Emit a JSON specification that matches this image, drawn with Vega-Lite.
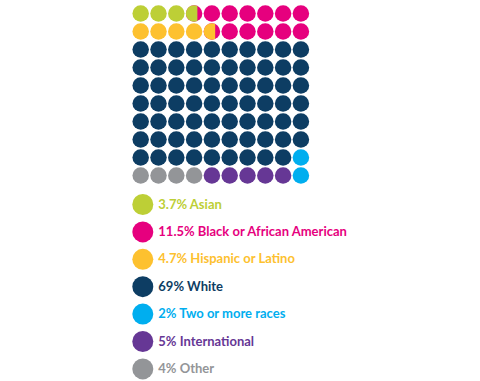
{
  "$schema": "https://vega.github.io/schema/vega-lite/v6.json",
  "autosize": "none",
  "width": 178,
  "height": 180,
  "padding": {"left": 131.8, "top": 4.5, "right": 170.2, "bottom": 196.5},
  "background": "white",
  "config": {"view": {"stroke": null}},
  "data": {"values": [
    {"r":1,"c":1,"g":"3.7% Asian","f":1},{"r":1,"c":2,"g":"3.7% Asian","f":1},{"r":1,"c":3,"g":"3.7% Asian","f":1},
    {"r":1,"c":4,"g":"11.5% Black or African American","f":1},{"r":1,"c":5,"g":"11.5% Black or African American","f":1},{"r":1,"c":6,"g":"11.5% Black or African American","f":1},{"r":1,"c":7,"g":"11.5% Black or African American","f":1},{"r":1,"c":8,"g":"11.5% Black or African American","f":1},{"r":1,"c":9,"g":"11.5% Black or African American","f":1},{"r":1,"c":10,"g":"11.5% Black or African American","f":1},
    {"r":2,"c":1,"g":"4.7% Hispanic or Latino","f":1},{"r":2,"c":2,"g":"4.7% Hispanic or Latino","f":1},{"r":2,"c":3,"g":"4.7% Hispanic or Latino","f":1},{"r":2,"c":4,"g":"4.7% Hispanic or Latino","f":1},
    {"r":2,"c":5,"g":"11.5% Black or African American","f":1},{"r":2,"c":6,"g":"11.5% Black or African American","f":1},{"r":2,"c":7,"g":"11.5% Black or African American","f":1},{"r":2,"c":8,"g":"11.5% Black or African American","f":1},{"r":2,"c":9,"g":"11.5% Black or African American","f":1},{"r":2,"c":10,"g":"11.5% Black or African American","f":1},
    {"r":3,"c":1,"g":"69% White","f":1},{"r":3,"c":2,"g":"69% White","f":1},{"r":3,"c":3,"g":"69% White","f":1},{"r":3,"c":4,"g":"69% White","f":1},{"r":3,"c":5,"g":"69% White","f":1},{"r":3,"c":6,"g":"69% White","f":1},{"r":3,"c":7,"g":"69% White","f":1},{"r":3,"c":8,"g":"69% White","f":1},{"r":3,"c":9,"g":"69% White","f":1},{"r":3,"c":10,"g":"69% White","f":1},
    {"r":4,"c":1,"g":"69% White","f":1},{"r":4,"c":2,"g":"69% White","f":1},{"r":4,"c":3,"g":"69% White","f":1},{"r":4,"c":4,"g":"69% White","f":1},{"r":4,"c":5,"g":"69% White","f":1},{"r":4,"c":6,"g":"69% White","f":1},{"r":4,"c":7,"g":"69% White","f":1},{"r":4,"c":8,"g":"69% White","f":1},{"r":4,"c":9,"g":"69% White","f":1},{"r":4,"c":10,"g":"69% White","f":1},
    {"r":5,"c":1,"g":"69% White","f":1},{"r":5,"c":2,"g":"69% White","f":1},{"r":5,"c":3,"g":"69% White","f":1},{"r":5,"c":4,"g":"69% White","f":1},{"r":5,"c":5,"g":"69% White","f":1},{"r":5,"c":6,"g":"69% White","f":1},{"r":5,"c":7,"g":"69% White","f":1},{"r":5,"c":8,"g":"69% White","f":1},{"r":5,"c":9,"g":"69% White","f":1},{"r":5,"c":10,"g":"69% White","f":1},
    {"r":6,"c":1,"g":"69% White","f":1},{"r":6,"c":2,"g":"69% White","f":1},{"r":6,"c":3,"g":"69% White","f":1},{"r":6,"c":4,"g":"69% White","f":1},{"r":6,"c":5,"g":"69% White","f":1},{"r":6,"c":6,"g":"69% White","f":1},{"r":6,"c":7,"g":"69% White","f":1},{"r":6,"c":8,"g":"69% White","f":1},{"r":6,"c":9,"g":"69% White","f":1},{"r":6,"c":10,"g":"69% White","f":1},
    {"r":7,"c":1,"g":"69% White","f":1},{"r":7,"c":2,"g":"69% White","f":1},{"r":7,"c":3,"g":"69% White","f":1},{"r":7,"c":4,"g":"69% White","f":1},{"r":7,"c":5,"g":"69% White","f":1},{"r":7,"c":6,"g":"69% White","f":1},{"r":7,"c":7,"g":"69% White","f":1},{"r":7,"c":8,"g":"69% White","f":1},{"r":7,"c":9,"g":"69% White","f":1},{"r":7,"c":10,"g":"69% White","f":1},
    {"r":8,"c":1,"g":"69% White","f":1},{"r":8,"c":2,"g":"69% White","f":1},{"r":8,"c":3,"g":"69% White","f":1},{"r":8,"c":4,"g":"69% White","f":1},{"r":8,"c":5,"g":"69% White","f":1},{"r":8,"c":6,"g":"69% White","f":1},{"r":8,"c":7,"g":"69% White","f":1},{"r":8,"c":8,"g":"69% White","f":1},{"r":8,"c":9,"g":"69% White","f":1},{"r":8,"c":10,"g":"69% White","f":1},
    {"r":9,"c":1,"g":"69% White","f":1},{"r":9,"c":2,"g":"69% White","f":1},{"r":9,"c":3,"g":"69% White","f":1},{"r":9,"c":4,"g":"69% White","f":1},{"r":9,"c":5,"g":"69% White","f":1},{"r":9,"c":6,"g":"69% White","f":1},{"r":9,"c":7,"g":"69% White","f":1},{"r":9,"c":8,"g":"69% White","f":1},{"r":9,"c":9,"g":"69% White","f":1},
    {"r":9,"c":10,"g":"2% Two or more races","f":1},
    {"r":10,"c":1,"g":"4% Other","f":1},{"r":10,"c":2,"g":"4% Other","f":1},{"r":10,"c":3,"g":"4% Other","f":1},{"r":10,"c":4,"g":"4% Other","f":1},
    {"r":10,"c":5,"g":"5% International","f":1},{"r":10,"c":6,"g":"5% International","f":1},{"r":10,"c":7,"g":"5% International","f":1},{"r":10,"c":8,"g":"5% International","f":1},{"r":10,"c":9,"g":"5% International","f":1},
    {"r":10,"c":10,"g":"2% Two or more races","f":1},
    {"r":1,"c":4,"g":"3.7% Asian","f":0.7},
    {"r":2,"c":5,"g":"4.7% Hispanic or Latino","f":0.7}
  ]},
  "mark": {"type": "point", "filled": true, "opacity": 1, "size": 272, "strokeWidth": 0},
  "encoding": {
    "x": {"field": "c", "type": "quantitative", "scale": {"domain": [0.5, 10.5]}, "axis": null},
    "y": {"field": "r", "type": "quantitative", "scale": {"domain": [0.5, 10.5], "reverse": true}, "axis": null},
    "shape": {"field": "f", "type": "nominal", "scale": {"domain": [1, 0.7], "range": ["circle", "M0.4,-0.9165A1,1 0 1,0 0.4,0.9165Z"]}, "legend": null},
    "color": {
      "field": "g", "type": "nominal",
      "scale": {
        "domain": ["3.7% Asian", "11.5% Black or African American", "4.7% Hispanic or Latino", "69% White", "2% Two or more races", "5% International", "4% Other"],
        "range": ["#bdcf36", "#e6007e", "#fdc12f", "#0d3d63", "#00aeef", "#663795", "#939598"]
      },
      "legend": {
        "title": null,
        "orient": "none",
        "legendX": 0.5,
        "legendY": 189.5,
        "symbolType": "circle",
        "symbolSize": 441,
        "symbolStrokeWidth": 0,
        "symbolOpacity": 1,
        "labelFont": "Lato",
        "labelFontSize": 13,
        "labelFontWeight": "bold",
        "labelOffset": 5,
        "labelLimit": 400,
        "rowPadding": 6.4,
        "encode": {"labels": {"update": {"fill": {"scale": "color", "field": "value"}}}}
      }
    }
  }
}
